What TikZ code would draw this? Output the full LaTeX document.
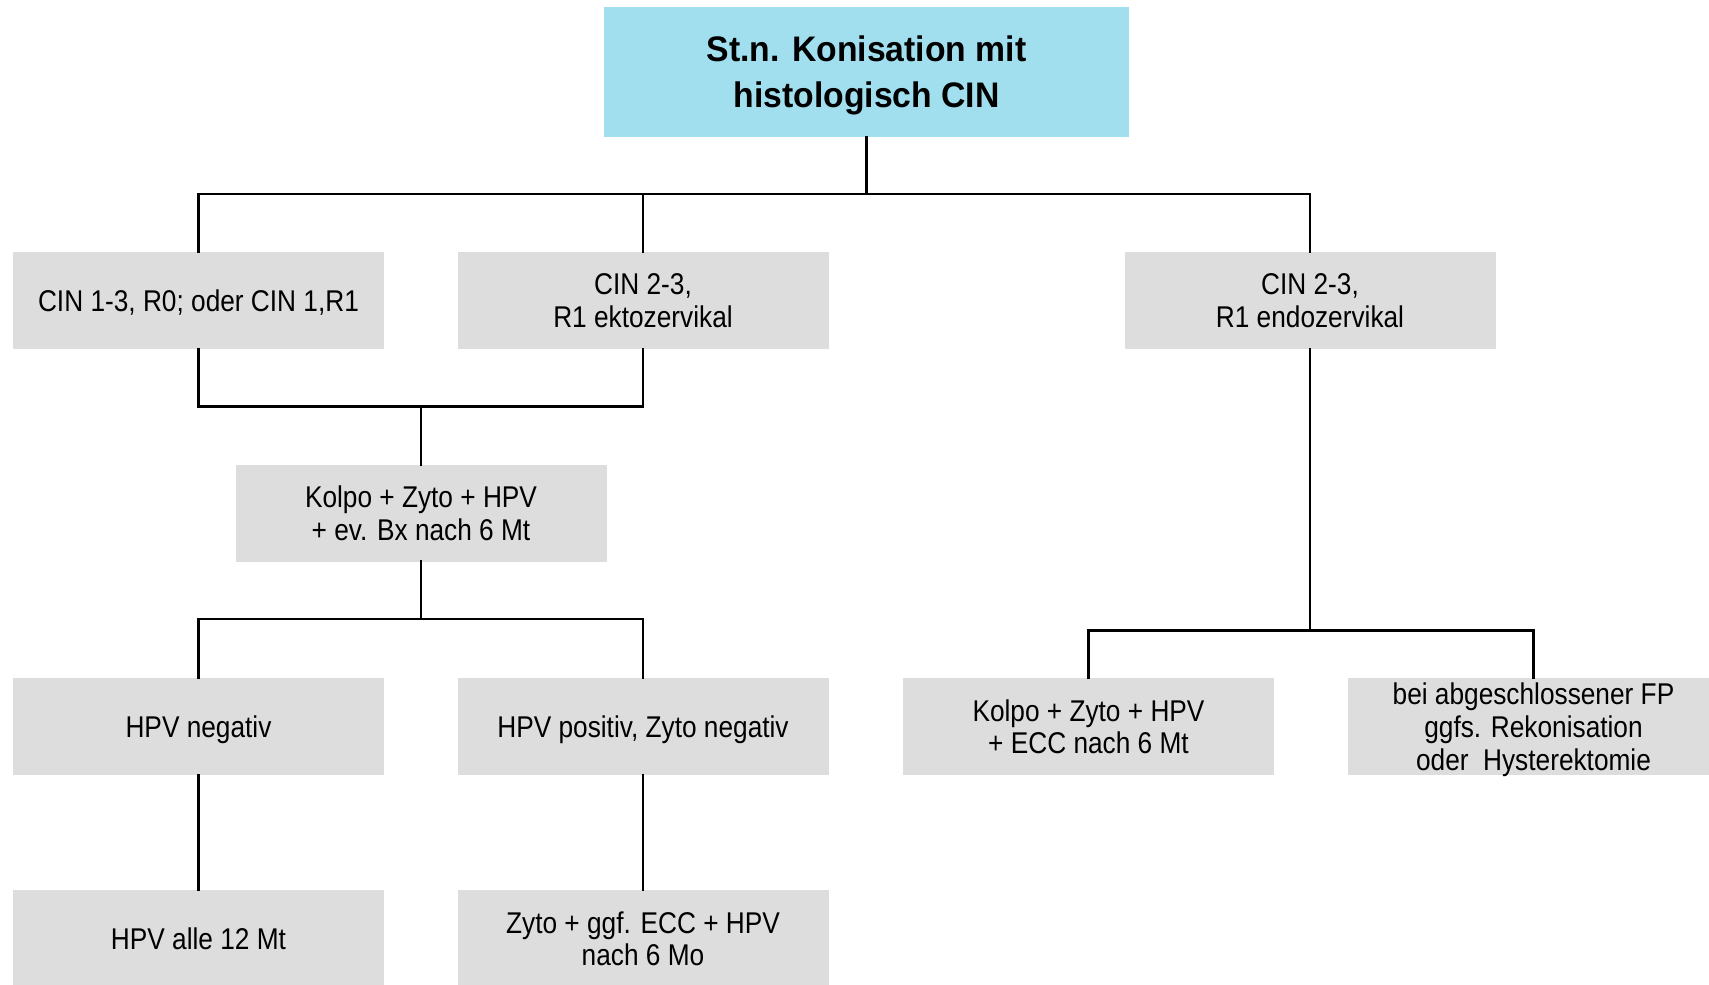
\documentclass[tikz,border=0pt]{standalone}
\usepackage{fontspec}
\setmainfont[FakeStretch=0.875]{Liberation Sans}
\newfontfamily\titlefont[FakeStretch=0.95]{Liberation Sans}
\definecolor{headblue}{RGB}{161,223,239}
\definecolor{boxgray}{RGB}{221,221,221}
\tikzset{
  stepbox/.style={fill=boxgray, draw=none, inner sep=0pt, minimum width=371pt,
    minimum height=97pt, align=center, text depth=0pt,
    font=\fontsize{30pt}{32.7pt}\selectfont},
  headbox/.style={fill=headblue, draw=none, inner sep=0pt, minimum width=525pt,
    minimum height=130pt, align=center, text depth=0pt,
    font=\titlefont\bfseries\fontsize{35.5pt}{45.8pt}\selectfont},
  link/.style={draw=black, line width=2.7pt, line cap=rect, line join=miter}
}
\begin{document}
\begin{tikzpicture}[x=1pt, y=-1pt]
\useasboundingbox (0,0) rectangle (1709,985);
\clip (0,0) rectangle (1709,985);
\fill[white] (0,0) rectangle (1709,985);

% boxes
\node[headbox] (top) at (866.5,72) {St.n. Konisation mit\\histologisch CIN};

\node[stepbox] (a) at (198.5,300.5) {CIN 1-3, R0; oder CIN 1,R1};
\node[stepbox] (b) at (643,300.5) {CIN 2-3,\\R1 ektozervikal};
\node[stepbox] (c) at (1310,300.5) {CIN 2-3,\\R1 endozervikal};

\node[stepbox] (d) at (421,513) {Kolpo + Zyto + HPV\\+ ev. Bx nach 6 Mt};

\node[stepbox] (e) at (198.5,726.5) {HPV negativ};
\node[stepbox] (f) at (643,726.5) {HPV positiv, Zyto negativ};
\node[stepbox] (i) at (1088.5,726.5) {Kolpo + Zyto + HPV\\+ ECC nach 6 Mt};
\node[stepbox] (k) at (1533.5,726.5) {bei abgeschlossener FP\\ggfs. Rekonisation\\oder\ \ Hysterektomie};

\node[stepbox] (g) at (198.5,938.5) {HPV alle 12 Mt};
\node[stepbox] (h) at (643,938.5) {Zyto + ggf. ECC + HPV\\nach 6 Mo};

% junction points of the tree
\coordinate (j1) at (866.5,194);
\coordinate (j2) at (421,406.5);
\coordinate (j3) at (421,619);
\coordinate (j4) at (1310,630.5);

% connectors
\draw[link] (top.south) -- (j1);
\draw[link] (a.north) |- (j1);
\draw[link] (b.north) |- (j1);
\draw[link] (c.north) |- (j1);

\draw[link] (a.south) |- (j2);
\draw[link] (b.south) |- (j2);
\draw[link] (j2) -- (d.north);

\draw[link] (d.south) -- (j3);
\draw[link] (e.north) |- (j3);
\draw[link] (f.north) |- (j3);

\draw[link] (e.south) -- (g.north);
\draw[link] (f.south) -- (h.north);

\draw[link] (c.south) -- (j4);
\draw[link] (i.north) |- (j4);
\draw[link] (k.north) |- (j4);
\end{tikzpicture}
\end{document}
